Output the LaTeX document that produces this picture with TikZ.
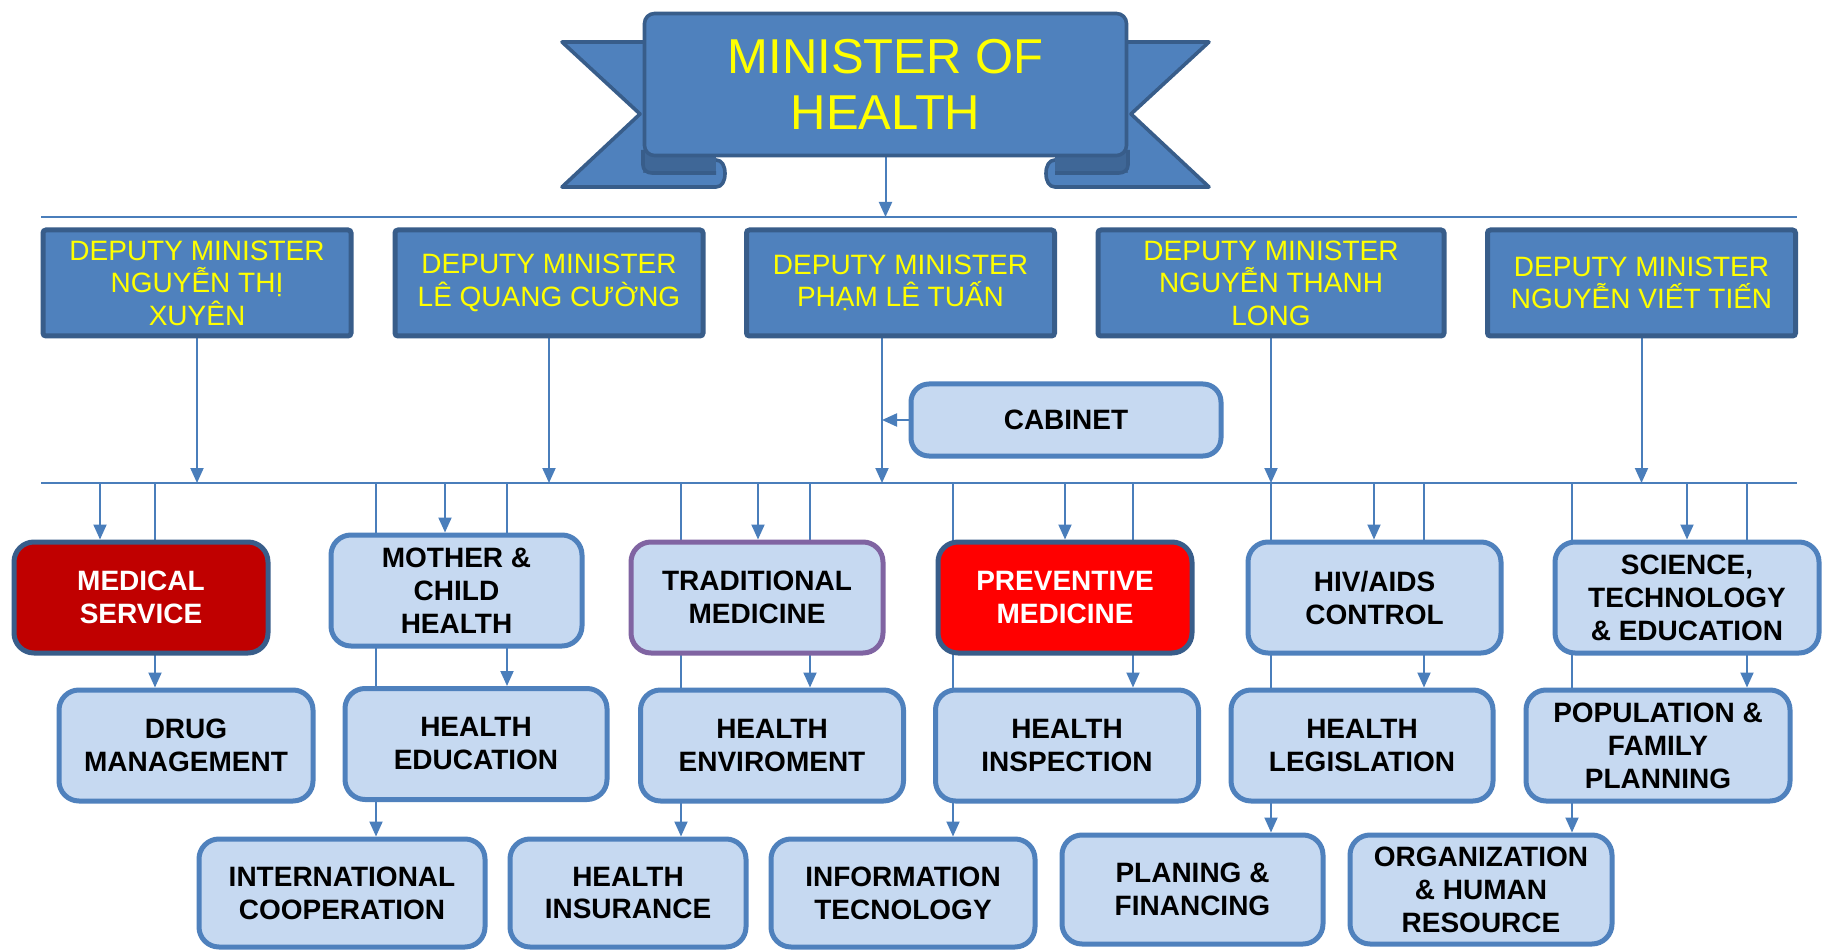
\documentclass[tikz,border=0pt]{standalone}
\usepackage{fontspec}
\setmainfont{Liberation Sans}
\usepackage{tikz}
\usetikzlibrary{arrows.meta,backgrounds}
\definecolor{cbox}{HTML}{C6D9F1}
\definecolor{cedge}{HTML}{4F81BD}
\definecolor{cdep}{HTML}{4F81BD}
\definecolor{cdark}{HTML}{385D8A}
\definecolor{cfold}{HTML}{3F6797}
\definecolor{clink}{HTML}{4A7EBB}
\definecolor{cpurple}{HTML}{8064A2}
\definecolor{cmaroon}{HTML}{C00000}
\definecolor{cred}{HTML}{FF0000}
\definecolor{cyel}{HTML}{FFFF00}
\tikzset{
  >={Triangle[length=7.5pt,width=6.5pt]},
  link/.style={clink,line width=1pt},
  bus/.style={clink,line width=1.4pt},
  ribbon/.style={fill=cdep,draw=cdark,line width=1.8pt,line join=round},
  deputy/.style={rectangle,rounded corners=1.5pt,fill=cdep,draw=cdark,line width=2.5pt,
    text=cyel,align=center,font=\fontsize{14}{16.3}\selectfont,
    minimum width=154pt,minimum height=53pt},
  dept/.style={rectangle,rounded corners=10pt,fill=cbox,draw=cedge,line width=2.5pt,
    align=center,font=\fontsize{14}{16.5}\selectfont\bfseries,
    minimum width=127pt,minimum height=55.5pt},
  hot/.style={draw=cdark,text=white},
}

\begin{document}
\begin{tikzpicture}[x=0.5pt,y=-0.5pt]
\useasboundingbox (0,0) rectangle (1822,952);

% ================= MINISTER BANNER =================
% left wing and fold
\filldraw[ribbon] (562,42) -- (705,42) -- (705,160) -- (716,160)
  .. controls (722,160) and (725,166) .. (725,173.5)
  .. controls (725,181) and (722,187) .. (716,187) -- (562,187) -- (640,114) -- cycle;
\fill[cfold] (643,150) rectangle (716,173);
\draw[cdark,line width=1.8pt] (643,150) -- (643,165) .. controls (643,170) and (647,173) .. (652,173) -- (716,173);
% right wing and fold
\filldraw[ribbon] (1209,42) -- (1066,42) -- (1066,160) -- (1055,160)
  .. controls (1049,160) and (1046,166) .. (1046,173.5)
  .. controls (1046,181) and (1049,187) .. (1055,187) -- (1209,187) -- (1131,114) -- cycle;
\fill[cfold] (1055,150) rectangle (1128,173);
\draw[cdark,line width=1.8pt] (1128,150) -- (1128,165) .. controls (1128,170) and (1124,173) .. (1119,173) -- (1055,173);
\node[rectangle,rounded corners=5pt,fill=cdep,draw=cdark,line width=1.8pt,
  minimum width=241pt,minimum height=71pt,text=cyel,align=center,
  font=\fontsize{24.5}{28}\selectfont] (minister) at (885.5,84.5) {MINISTER OF\\HEALTH};

% ================= DEPUTY MINISTERS =================
\node[deputy] (d1) at (197,283) {DEPUTY MINISTER\\NGUYỄN THỊ\\XUYÊN};
\node[deputy] (d2) at (549,283) {DEPUTY MINISTER\\LÊ QUANG CƯỜNG};
\node[deputy] (d3) at (900.5,283) {DEPUTY MINISTER\\PHẠM LÊ TUẤN};
\node[deputy,minimum width=173pt] (d4) at (1271,283) {DEPUTY MINISTER\\NGUYỄN THANH\\LONG};
\node[deputy] (d5) at (1641.5,283) {DEPUTY MINISTER\\NGUYỄN VIẾT TIẾN};
\node[dept,rounded corners=9pt,minimum width=155pt,minimum height=36pt] (cab) at (1066,420) {CABINET};

% ================= DEPARTMENTS =================
% first row
\node[dept,hot,fill=cmaroon] (ms) at (141,597.5) {MEDICAL\\SERVICE};
\node[dept,minimum width=125.5pt] (mch) at (456.5,590.5) {MOTHER \&\\CHILD\\HEALTH};
\node[dept,draw=cpurple,minimum width=126pt] (trad) at (757,597.5) {TRADITIONAL\\MEDICINE};
\node[dept,hot,fill=cred] (prev) at (1065,597.5) {PREVENTIVE\\MEDICINE};
\node[dept,minimum width=126.5pt] (hiv) at (1374.5,597.5) {HIV/AIDS\\CONTROL};
\node[dept,minimum width=132pt] (sci) at (1687,597.5) {SCIENCE,\\TECHNOLOGY\\\& EDUCATION};
% second row
\node[dept] (drug) at (186,745.5) {DRUG\\MANAGEMENT};
\node[dept,minimum width=131pt] (hedu) at (476,744) {HEALTH\\EDUCATION};
\node[dept,minimum width=131.5pt] (henv) at (772,745.5) {HEALTH\\ENVIROMENT};
\node[dept,minimum width=131.5pt] (hins) at (1067,745.5) {HEALTH\\INSPECTION};
\node[dept,minimum width=131pt] (hleg) at (1362,745.5) {HEALTH\\LEGISLATION};
\node[dept,minimum width=132pt] (pop) at (1658,745.5) {POPULATION \&\\FAMILY\\PLANNING};
% third row
\node[dept,minimum width=143pt,minimum height=54pt] (intl) at (342,893) {INTERNATIONAL\\COOPERATION};
\node[dept,minimum width=118pt,minimum height=54pt] (insu) at (628,893) {HEALTH\\INSURANCE};
\node[dept,minimum width=132pt,minimum height=54pt] (itech) at (903,893) {INFORMATION\\TECNOLOGY};
\node[dept,minimum width=130.5pt,minimum height=54.5pt] (plan) at (1192.5,889.5) {PLANING \&\\FINANCING};
\node[dept,minimum width=131pt,minimum height=54.5pt] (org) at (1481,889.5) {ORGANIZATION\\\& HUMAN\\RESOURCE};

% ================= CONNECTORS =================
\coordinate (busT1) at (41,217);  \coordinate (busT2) at (1797,217);
\coordinate (busB1) at (41,483);  \coordinate (busB2) at (1797,483);
\coordinate (d3tap) at ([xshift=-9.25pt]d3.south);
\begin{scope}[on background layer]
  \fill[white] (0,0) rectangle (1822,952);
  \draw[bus] (busT1) -- (busT2);
  \draw[bus] (busB1) -- (busB2);
  \draw[link,->] (minister.south) -- (minister.south |- busT1);
  \foreach \d in {d1,d2,d4,d5}
    \draw[link,->] (\d.south) -- (\d.south |- busB1);
  \draw[link,->] (d3tap) -- (d3tap |- busB1);
  \draw[link,->] (cab.west) -- (cab.west -| d3tap);
  % taps from the lower bus, running behind the boxes
  \foreach \x/\n in {100/ms,155/drug,376/intl,445/mch,507/hedu,681/insu,758/trad,810/henv,
                     953/itech,1065/prev,1133/hins,1271/plan,1374/hiv,1424/hleg,1572/org,1687/sci,1747/pop}{
    \coordinate (tap) at (\x,483);
    \draw[link,->] (tap) -- (tap |- \n.north);
  }
\end{scope}

\end{tikzpicture}
\end{document}
